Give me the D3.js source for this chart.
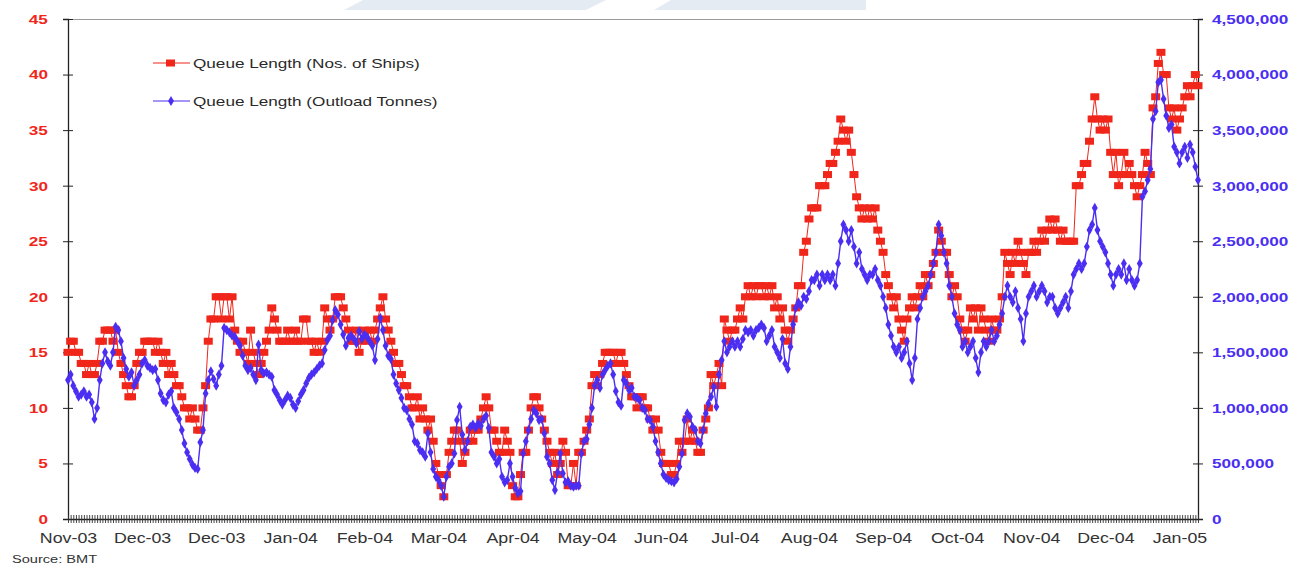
<!DOCTYPE html>
<html>
<head>
<meta charset="utf-8">
<script src="https://cdn.jsdelivr.net/npm/d3@7"></script>
<style>
  html, body { margin: 0; padding: 0; background: #ffffff; }
  svg { display: block; }
  text { font-family: "Liberation Sans", Arial, sans-serif; }
  /* wide lettering: text is stretched horizontally about its anchor */
  .wide { transform-box: fill-box; }
  .wide-l { transform: scaleX(1.27); transform-origin: left center; }
  .wide-r { transform: scaleX(1.27); transform-origin: right center; }
  .wide-c { transform: scaleX(1.27); transform-origin: center center; }
</style>
</head>
<body>
<svg id="chart" width="1304" height="565"></svg>
<script>
// Category labels shown every 28th observation
const tickLabels = ["Nov-03","Dec-03","Dec-03","Jan-04","Feb-04","Mar-04","Apr-04","May-04",
  "Jun-04","Jul-04","Aug-04","Sep-04","Oct-04","Nov-04","Dec-04","Jan-05"];
const labelEvery = 28;

// Queue length, number of ships waiting (daily)
const ships = [
  15,16,16,15,15,14,14,13,14,13,13,14,16,16,17,17,17,16,17,15,14,13,12,11,11,12,14,15,
  15,16,16,16,16,15,16,15,14,15,13,14,13,12,12,11,10,10,9,10,9,8,8,10,12,16,18,18,
  20,20,18,20,20,18,20,17,16,15,16,15,14,17,15,14,13,14,15,16,17,19,18,17,16,16,16,17,
  16,16,17,16,16,18,18,16,16,15,16,15,16,19,18,17,18,20,20,20,19,18,17,16,16,17,15,16,
  17,16,17,16,17,18,19,20,18,17,16,15,14,14,13,12,12,11,10,10,11,9,10,9,8,9,7,5,
  4,3,2,4,6,7,8,8,7,5,6,7,8,7,8,8,9,10,11,10,8,8,7,6,6,8,7,6,
  3,2,2,4,6,6,8,10,11,11,10,9,8,7,6,5,6,4,5,7,6,3,3,5,3,6,6,7,
  8,9,12,13,12,13,14,15,15,15,15,14,15,15,14,13,12,11,11,10,11,11,10,10,9,8,9,8,
  6,5,5,5,4,4,5,7,6,7,9,7,8,7,6,6,8,9,10,13,12,13,14,12,18,17,16,17,
  17,18,19,18,20,21,20,21,20,21,21,20,21,20,21,19,20,18,19,17,16,17,18,19,21,21,24,25,
  27,28,28,28,30,30,30,31,32,32,33,34,36,35,34,35,33,31,29,28,27,28,27,28,27,28,26,25,
  24,22,21,20,19,20,18,17,16,18,19,20,19,20,21,20,22,21,22,23,24,26,25,24,24,22,20,21,
  20,18,17,16,17,19,18,19,17,19,18,17,16,18,17,17,18,20,24,23,22,24,23,25,24,23,22,24,
  24,25,24,25,26,25,26,27,26,27,26,25,26,25,25,25,25,30,30,31,32,32,34,36,38,36,35,36,
  35,36,33,31,33,30,31,33,31,32,31,30,29,30,31,33,32,31,37,38,41,42,40,40,37,36,37,35,
  36,37,38,39,38,39,40,39
];

// Queue length in outload tonnes, thousands (daily)
const tonnesK = [
  1250,1300,1200,1150,1100,1120,1150,1100,1120,1050,900,1000,1250,1400,1500,1420,1380,1500,1730,1700,1600,1450,1350,1280,1320,1200,1250,1300,
  1400,1430,1380,1360,1340,1350,1250,1130,1070,1050,1120,1150,1000,960,900,800,680,600,540,490,460,450,690,800,1130,1250,1330,1260,
  1200,1300,1380,1720,1700,1680,1650,1640,1600,1560,1470,1380,1340,1360,1300,1250,1570,1340,1310,1320,1300,1280,1160,1120,1070,1030,1070,1110,
  1090,1030,1000,1060,1120,1160,1220,1270,1300,1320,1350,1380,1400,1520,1610,1650,1790,1880,1840,1750,1660,1560,1630,1650,1620,1580,1690,1620,
  1660,1640,1600,1560,1430,1620,1810,1700,1560,1470,1440,1300,1220,1160,1090,1000,980,900,850,700,680,620,600,560,770,600,450,380,
  350,300,200,380,470,500,590,890,1010,760,620,700,830,850,820,860,840,900,930,820,600,560,500,540,380,330,350,500,
  380,280,230,250,590,700,800,900,980,950,890,900,770,560,500,350,260,420,590,410,330,340,300,290,300,300,590,700,
  720,850,1000,1200,1250,1180,1300,1340,1380,1400,1300,1150,1050,1020,1250,1220,1160,1180,1100,1090,1070,1000,980,900,890,830,700,600,
  500,400,370,350,340,330,360,470,590,890,950,920,830,800,700,680,800,950,1040,1100,1190,1010,1300,1430,1600,1500,1550,1600,
  1550,1600,1550,1620,1700,1680,1700,1650,1700,1720,1750,1720,1600,1650,1700,1550,1500,1450,1620,1400,1350,1550,1750,1900,1950,1920,2000,1980,
  2050,2150,2150,2200,2100,2200,2150,2200,2150,2200,2100,2300,2500,2650,2600,2500,2600,2450,2300,2400,2250,2200,2150,2200,2200,2250,2150,2100,
  2000,1900,1750,1650,1550,1500,1550,1450,1500,1600,1400,1250,1450,1800,1900,2000,2050,2100,2200,2300,2400,2650,2550,2400,2300,2100,2000,1850,
  1750,1700,1550,1600,1500,1550,1600,1450,1320,1500,1600,1550,1600,1700,1600,1650,1750,1850,2000,2100,2000,1950,2050,1900,1800,1600,1850,2000,
  2050,2100,2000,2050,2100,2050,1950,2000,2000,1900,1850,1900,1950,2000,1900,2050,2200,2250,2300,2250,2300,2450,2600,2650,2800,2600,2500,2450,
  2400,2300,2200,2100,2200,2250,2200,2300,2150,2250,2150,2100,2150,2300,2900,2950,3050,3150,3600,3670,3930,3950,3780,3630,3520,3550,3350,3300,
  3200,3300,3350,3250,3370,3300,3170,3050
];

const leftTicks = [0,5,10,15,20,25,30,35,40,45];
const rightTicksK = [0,500,1000,1500,2000,2500,3000,3500,4000,4500];

const seriesNames = ["Queue Length (Nos. of Ships)", "Queue Length (Outload Tonnes)"];

const RED = "#f0261b";
const BLUE = "#4a2ef2";
const FONT = "Liberation Sans, Arial, sans-serif";

const svg = d3.select("#chart");
const M = { left: 68, right: 1198, top: 19, bottom: 519 };

// faint slide decoration along the top edge
svg.append("path").attr("d", "M363,0 L606,0 L586,10 L344,10 Z").attr("fill", "#e5ebf3");
svg.append("path").attr("d", "M671,0 L866,0 L866,10 L654,10 Z").attr("fill", "#e5ebf3");

const n = ships.length;
const x = d3.scaleLinear().domain([0, n - 1]).range([M.left, M.right]);
const yL = d3.scaleLinear().domain([0, 45]).range([M.bottom, M.top]);
const yR = d3.scaleLinear().domain([0, 4500]).range([M.bottom, M.top]);

// plot top border
svg.append("line")
  .attr("x1", M.left).attr("x2", M.right)
  .attr("y1", M.top + 0.5).attr("y2", M.top + 0.5)
  .attr("stroke", "#9a9a9a").attr("stroke-width", 1.2);

// left axis (ticks cross the axis line)
const gL = svg.append("g").attr("transform", `translate(${M.left},0)`);
gL.call(d3.axisLeft(yL).tickValues(leftTicks).tickSize(5).tickPadding(15).tickFormat(d3.format("d")));
gL.append("g").call(d3.axisRight(yL).tickValues(leftTicks).tickSize(5).tickFormat(""))
  .select(".domain").remove();
gL.selectAll(".domain").attr("stroke", "#222").attr("stroke-width", 1.3);
gL.selectAll(".tick line").attr("stroke", "#222");
gL.selectAll(".tick text")
  .attr("fill", RED).attr("font-size", 13.5).attr("font-weight", "bold")
  .attr("font-family", FONT).attr("class", "wide wide-r");

// right axis
const gR = svg.append("g").attr("transform", `translate(${M.right},0)`);
gR.call(d3.axisRight(yR).tickValues(rightTicksK).tickSize(5).tickPadding(9)
  .tickFormat(d => d3.format(",")(d * 1000)));
gR.append("g").call(d3.axisLeft(yR).tickValues(rightTicksK).tickSize(5).tickFormat(""))
  .select(".domain").remove();
gR.selectAll(".domain").attr("stroke", "#222").attr("stroke-width", 1.3);
gR.selectAll(".tick line").attr("stroke", "#222");
gR.selectAll(".tick text")
  .attr("fill", BLUE).attr("font-size", 13.5).attr("font-weight", "bold")
  .attr("font-family", FONT).attr("class", "wide wide-l");

// bottom axis: a tick for every observation, labels every 28th
const idx = d3.range(n);
const gB = svg.append("g").attr("transform", `translate(0,${M.bottom})`);
gB.call(d3.axisBottom(x).tickValues(idx).tickSize(4).tickSizeOuter(0).tickFormat(""));
gB.append("g").call(d3.axisTop(x).tickValues(idx).tickSize(4).tickFormat(""))
  .select(".domain").remove();
gB.selectAll(".domain").attr("stroke", "#222").attr("stroke-width", 1.3);
gB.selectAll(".tick line").attr("stroke", "#333").attr("stroke-width", 0.9);

const labelIdx = tickLabels.map((_, i) => i * labelEvery);
const gBL = svg.append("g").attr("transform", `translate(0,${M.bottom})`);
gBL.call(d3.axisBottom(x).tickValues(labelIdx).tickSize(0).tickPadding(14)
  .tickFormat((d, i) => tickLabels[i]));
gBL.select(".domain").remove();
gBL.selectAll(".tick text")
  .attr("fill", "#333").attr("font-size", 14)
  .attr("font-family", FONT).attr("class", "wide wide-c");

// ships series (red squares)
const lineL = d3.line().x((d, i) => x(i)).y(d => yL(d));
svg.append("path").datum(ships)
  .attr("d", lineL).attr("fill", "none").attr("stroke", RED).attr("stroke-width", 1);
svg.append("g").selectAll("rect").data(ships).join("rect")
  .attr("x", (d, i) => x(i) - 4.5).attr("y", d => yL(d) - 3.5)
  .attr("width", 9).attr("height", 7).attr("fill", RED);

// tonnes series (blue diamonds)
const lineR = d3.line().x((d, i) => x(i)).y(d => yR(d));
svg.append("path").datum(tonnesK)
  .attr("d", lineR).attr("fill", "none").attr("stroke", BLUE).attr("stroke-width", 1.4);
const diamond = d3.symbol().type(d3.symbolDiamond).size(30);
svg.append("g").selectAll("path").data(tonnesK).join("path")
  .attr("transform", (d, i) => `translate(${x(i)},${yR(d)})`)
  .attr("d", diamond).attr("fill", BLUE);

// legend
const legend = svg.append("g");
[[63, RED, "square"], [101, BLUE, "diamond"]].forEach(([ly, col, kind], k) => {
  legend.append("line").attr("x1", 153).attr("x2", 190).attr("y1", ly).attr("y2", ly)
    .attr("stroke", col).attr("stroke-width", 1.2);
  if (kind === "square") {
    legend.append("rect").attr("x", 166).attr("y", ly - 3.5).attr("width", 9).attr("height", 7).attr("fill", col);
  } else {
    legend.append("path").attr("transform", `translate(171,${ly})`).attr("d", diamond).attr("fill", col);
  }
  legend.append("text").attr("x", 193).attr("y", ly + 5)
    .attr("font-size", 13.5).attr("fill", "#2a2a2a").attr("class", "wide wide-l")
    .text(seriesNames[k]);
});

// source note
svg.append("text").attr("x", 12).attr("y", 563)
  .attr("font-size", 11.5).attr("fill", "#333").attr("class", "wide wide-l")
  .text("Source: BMT");
</script>
</body>
</html>
